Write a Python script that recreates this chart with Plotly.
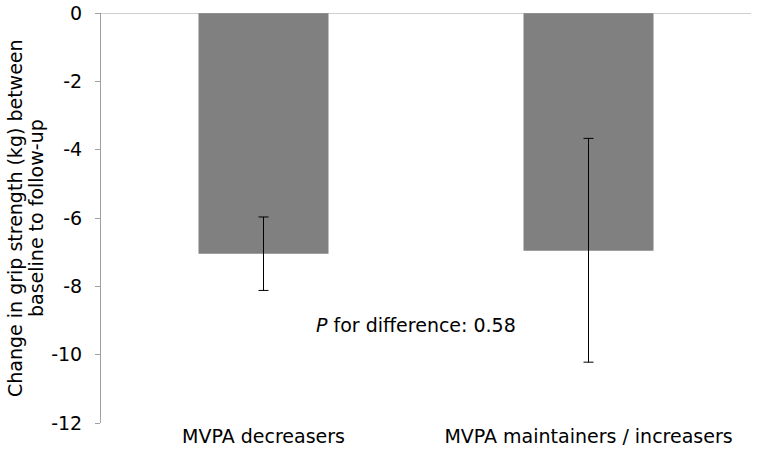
import plotly.graph_objects as go

categories = ["MVPA decreasers", "MVPA maintainers / increasers"]
means = [-7.05, -6.96]
err_up = [1.08, 3.29]
err_down = [1.07, 3.26]
y_ticks = [0, -2, -4, -6, -8, -10, -12]
y_tick_labels = ["0", "-2", "-4", "-6", "-8", "-10", "-12"]
y_title_lines = ["Change in grip strength (kg) between", "baseline to follow-up"]

font = "DejaVu Sans, Verdana, sans-serif"

fig = go.Figure()
fig.add_trace(go.Bar(
    x=categories, y=means, width=0.4,
    marker=dict(color="#808080", line=dict(width=0)),
    error_y=dict(type="data", symmetric=False, array=err_up, arrayminus=err_down,
                 color="#000000", thickness=1, width=5),
))
fig.add_hline(y=0, line=dict(color="#a0a0a0", width=1))
fig.add_annotation(x=0.47, y=-9.13, xref="x", yref="y",
                   text="<i>P</i> for difference: 0.58", showarrow=False,
                   font=dict(family=font, size=19, color="#000"))
for line, shift in zip(y_title_lines, [-86, -65]):
    fig.add_annotation(x=0, y=0.5, xref="paper", yref="paper", xshift=shift,
                       xanchor="center", yanchor="middle", textangle=-90,
                       text=line, showarrow=False,
                       font=dict(family=font, size=19, color="#000"))
fig.update_layout(
    width=757, height=461,
    margin=dict(l=101, r=6, t=13, b=38),
    paper_bgcolor="white", plot_bgcolor="white",
    showlegend=False,
    font=dict(family=font, size=19, color="#000"),
    bargap=0.6,
)
fig.update_xaxes(showline=False, ticks="", showgrid=False, zeroline=False,
                 tickfont=dict(size=19), automargin=False)
fig.update_yaxes(range=[-12, 0], tickvals=y_ticks, ticktext=y_tick_labels,
                 showgrid=False, zeroline=False,
                 showline=True, linecolor="#a0a0a0", linewidth=1,
                 ticks="outside", ticklen=5, tickcolor="#a0a0a0",
                 ticklabelstandoff=9, ticklabeloverflow="allow",
                 tickfont=dict(size=19), automargin=False)
fig.write_html("out.html", config={"displayModeBar": False},
               post_script="document.body.style.margin='0';")
